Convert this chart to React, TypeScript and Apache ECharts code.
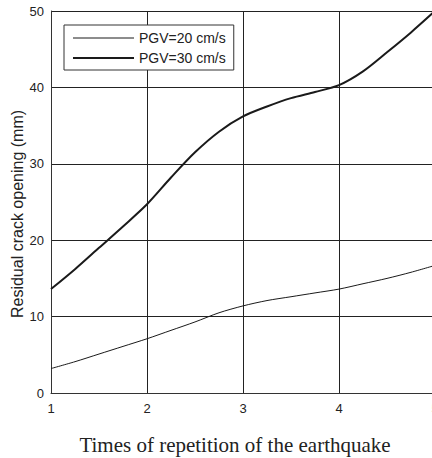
import React, { useEffect, useRef } from "react";
import * as echarts from "echarts";

const seriesNames = ["PGV=20 cm/s", "PGV=30 cm/s"];
const xPoints = [1, 1.25, 1.5, 1.75, 2, 2.25, 2.5, 2.75, 3, 3.25, 3.5, 3.75, 4, 4.25, 4.5, 4.75, 5];
const pgv20 = [3.2, 4.1, 5.1, 6.1, 7.1, 8.2, 9.3, 10.5, 11.4, 12.1, 12.6, 13.1, 13.6, 14.3, 15.0, 15.8, 16.7];
const pgv30 = [13.6, 16.2, 19.0, 21.8, 24.7, 28.2, 31.5, 34.2, 36.2, 37.5, 38.6, 39.4, 40.3, 42.1, 44.6, 47.2, 50.0];
const xTitle = "Times of repetition of the earthquake";
const yTitle = "Residual crack opening (mm)";

export default function App() {
  const ref = useRef<HTMLDivElement>(null);
  useEffect(() => {
    if (!ref.current) return;
    const chart = echarts.init(ref.current, null, { renderer: "svg" });
    const sans = "Liberation Sans, Arial, sans-serif";
    chart.setOption({
      animation: false,
      backgroundColor: "#fff",
      grid: {
        left: 51,
        top: 11,
        right: -3,
        bottom: 65,
        outerBoundsMode: "none",
        containLabel: false,
      },
      legend: {
        orient: "vertical",
        left: 64,
        top: 25,
        padding: [6, 8, 5, 8],
        itemWidth: 61,
        itemHeight: 14,
        itemGap: 6,
        borderColor: "#333",
        borderWidth: 1,
        borderRadius: 0,
        backgroundColor: "#fff",
        itemStyle: { opacity: 0, borderWidth: 0 },
        textStyle: { fontSize: 14, color: "#222", fontFamily: sans },
        data: [
          { name: seriesNames[0], lineStyle: { width: 1, color: "#1a1a1a" } },
          { name: seriesNames[1], lineStyle: { width: 2, color: "#1a1a1a" } },
        ],
      },
      xAxis: {
        type: "value",
        min: 1,
        max: 5,
        interval: 1,
        axisLine: { show: true, lineStyle: { color: "#333", width: 1 } },
        axisTick: { show: false },
        axisLabel: { fontSize: 13, color: "#222", fontFamily: sans, margin: 9 },
        splitLine: { show: true, lineStyle: { color: "#222", width: 1 } },
      },
      yAxis: {
        type: "value",
        min: 0,
        max: 50,
        interval: 10,
        axisLine: { show: true, lineStyle: { color: "#333", width: 1 } },
        axisTick: { show: false },
        axisLabel: { fontSize: 13, color: "#222", fontFamily: sans, margin: 7 },
        splitLine: { show: true, lineStyle: { color: "#222", width: 1 } },
      },
      graphic: [
        {
          type: "text",
          x: 235,
          y: 445,
          style: {
            text: xTitle,
            fontSize: 21,
            fontFamily: "Liberation Serif, Times New Roman, serif",
            fill: "#222",
            align: "center",
            verticalAlign: "middle",
          },
        },
        {
          type: "text",
          x: 17,
          y: 214,
          rotation: Math.PI / 2,
          style: {
            text: yTitle,
            fontSize: 16,
            fontFamily: sans,
            fill: "#222",
            align: "center",
            verticalAlign: "middle",
          },
        },
      ],
      series: [
        {
          name: seriesNames[0],
          type: "line",
          smooth: 0.3,
          symbol: "none",
          data: xPoints.map((x, i) => [x, pgv20[i]]),
          lineStyle: { color: "#1a1a1a", width: 1 },
          itemStyle: { color: "#1a1a1a" },
        },
        {
          name: seriesNames[1],
          type: "line",
          smooth: 0.3,
          symbol: "none",
          data: xPoints.map((x, i) => [x, pgv30[i]]),
          lineStyle: { color: "#1a1a1a", width: 2 },
          itemStyle: { color: "#1a1a1a" },
        },
      ],
    });
    return () => chart.dispose();
  }, []);
  return (
    <div
      ref={ref}
      style={{ position: "absolute", left: 0, top: 0, width: 432, height: 458 }}
    />
  );
}
